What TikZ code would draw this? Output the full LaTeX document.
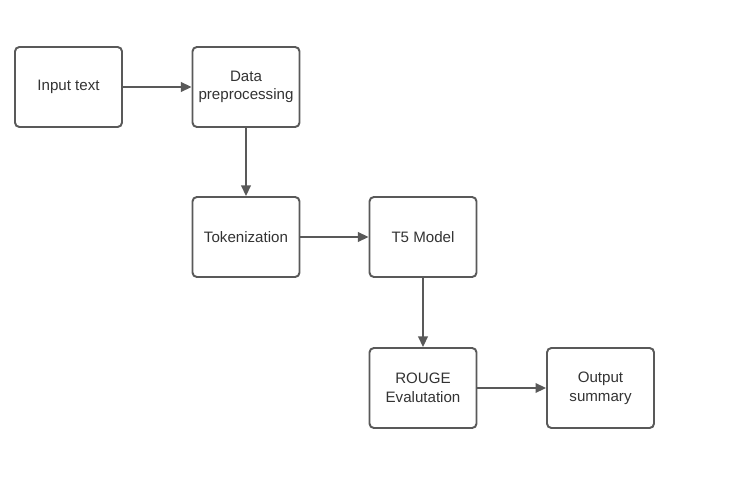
\documentclass[tikz,border=0pt]{standalone}
\usepackage{fontspec}
\setmainfont{Liberation Sans}
\usetikzlibrary{arrows.meta, positioning}
\definecolor{lineGray}{HTML}{595959}
\definecolor{textGray}{HTML}{333333}

\begin{document}
\begin{tikzpicture}[
    stage/.style={rectangle, rounded corners=2.5pt, draw=lineGray, line width=1.1pt,
                  minimum width=2.14cm, minimum height=1.6cm, font=\fontsize{8.6}{10.6}\selectfont,
                  text=textGray, align=center, fill=white},
    flow/.style={-{Triangle[length=6pt, width=5.5pt]}, draw=lineGray, line width=0.8pt},
  ]
    \useasboundingbox (0,0) rectangle (14.62,9.64);

    % Fila superior
    \node[stage] (input) at (1.37, 7.9) {Input text};
    \node[stage] (prep) at (4.92, 7.9) {Data\\preprocessing};

    % Fila media
    \node[stage] (tok) at (4.92, 4.9) {Tokenization};
    \node[stage] (model) at (8.46, 4.9) {T5 Model};

    % Fila inferior
    \node[stage] (rouge) at (8.46, 1.88) {ROUGE\\Evalutation};
    \node[stage] (output) at (12.01, 1.88) {Output\\summary};

    % Conexiones
    \draw[flow] (input) -- (prep);
    \draw[flow] (prep) -- (tok);
    \draw[flow] (tok) -- (model);
    \draw[flow] (model) -- (rouge);
    \draw[flow] (rouge) -- (output);
  \end{tikzpicture}
\end{document}
